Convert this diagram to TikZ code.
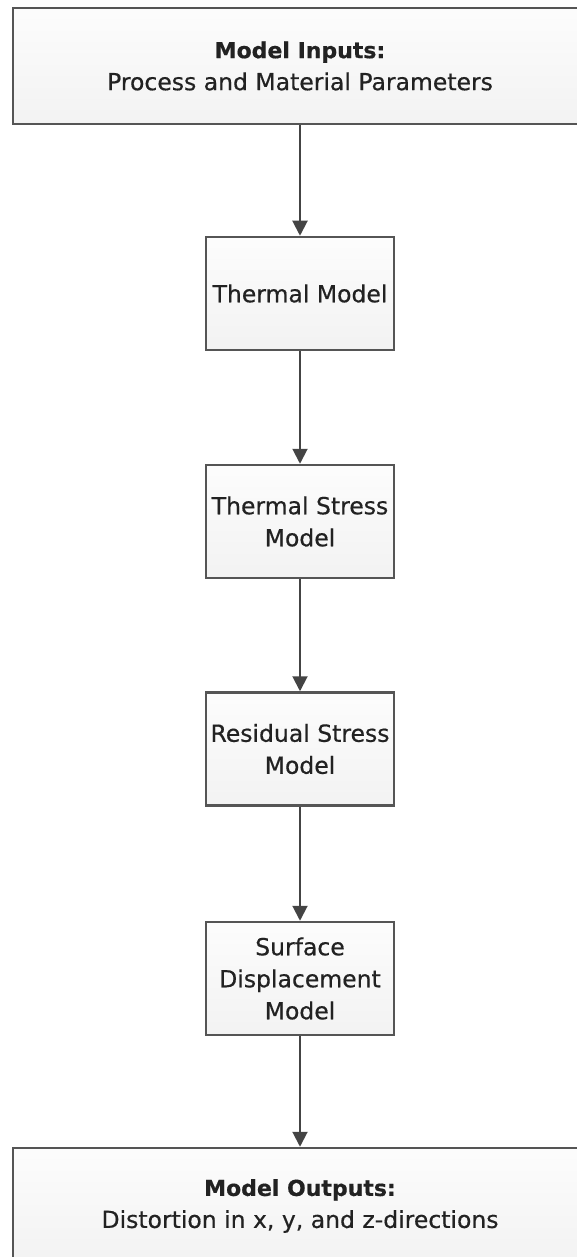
\documentclass[tikz,border=0pt]{standalone}
\usepackage{fontspec}
\setmainfont{DejaVu Sans}
\newfontfamily\boxfont{DejaVu Sans}[FakeBold=0.5]
\usetikzlibrary{arrows.meta}
\definecolor{boxline}{HTML}{555555}
\definecolor{arrowline}{HTML}{444444}
\definecolor{boxtext}{HTML}{222222}
\begin{document}
\begin{tikzpicture}[x=1pt,y=-1pt,
    modelbox/.style={draw=boxline, line width=2.5pt, top color=gray!2, bottom color=gray!10,
        rectangle, align=center, text=boxtext, inner sep=2pt,
        font=\boxfont\fontsize{23.5}{32}\selectfont, minimum width=188pt, minimum height=113pt},
    widebox/.style={modelbox, minimum width=574pt, minimum height=116pt},
    flow/.style={draw=arrowline, line width=2pt, -{Triangle[width=15pt,length=15pt]}}]
                \useasboundingbox (0,0) rectangle (577,1257);
                \node [widebox] (inputs) at (300,66) {{\fontsize{22}{32}\bfseries Model Inputs:}\\Process and Material Parameters};
                \node [modelbox] (thermal) at (300,293.5) {Thermal Model};
                \node [modelbox] (tstress) at (300,521.5) {Thermal Stress\\Model};
                \node [modelbox] (rstress) at (300,749) {Residual Stress\\Model};
                \node [modelbox] (surface) at (300,978.5) {Surface\\Displacement\\Model};
                \node [widebox] (outputs) at (300,1206) {{\fontsize{22}{32}\bfseries Model Outputs:}\\Distortion in x, y, and z-directions};
                \draw [flow] (inputs) -- (thermal);
                \draw [flow] (thermal) -- (tstress);
                \draw [flow] (tstress) -- (rstress);
                \draw [flow] (rstress) -- (surface);
                \draw [flow] (surface) -- (outputs);
            \end{tikzpicture}
\end{document}
